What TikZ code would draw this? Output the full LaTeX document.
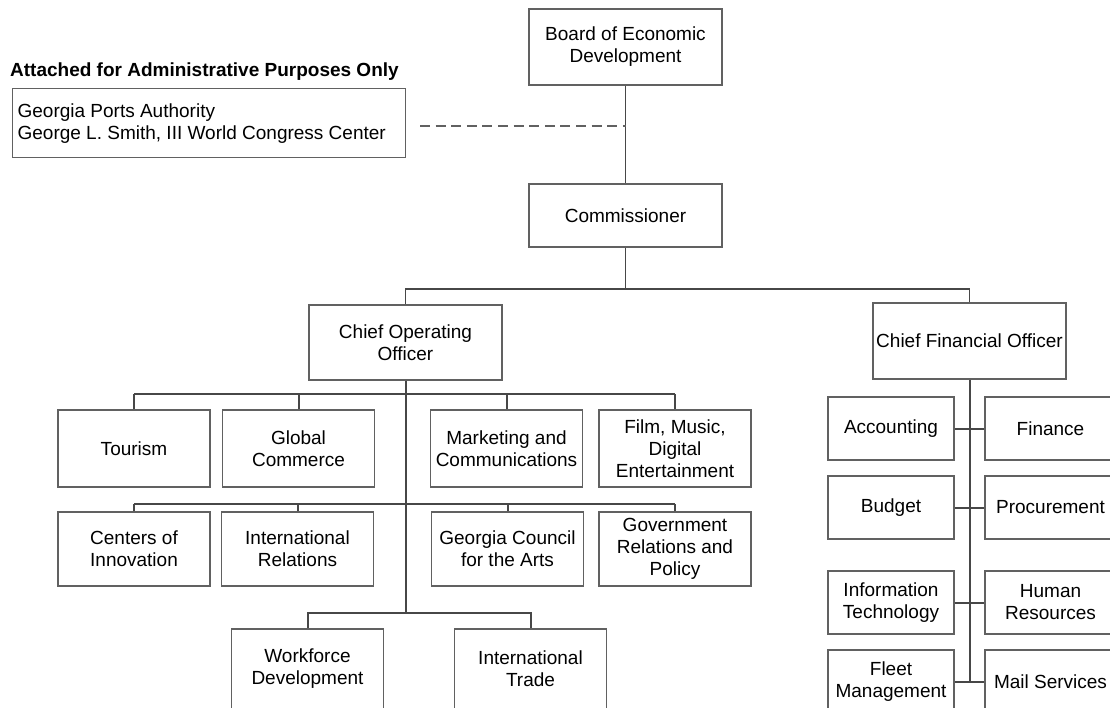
\documentclass[tikz,border=0pt]{standalone}
\usepackage{fontspec}
\setmainfont{Liberation Sans}

\begin{document}
\begin{tikzpicture}[x=1pt,y=-1pt,
  my box/.style={
    draw=black!62, line width=1.2pt, fill=white,
    align=center, inner sep=2pt, text=black,
    font=\fontsize{19}{22}\selectfont,
  },
  big box/.style={my box, minimum width=193pt, minimum height=#1pt},
  unit box/.style={my box, minimum width=152pt, minimum height=#1pt},
  staff box/.style={my box, minimum width=#1pt, minimum height=63pt},
  my link/.style={draw=black!72, line width=2pt},
  admin link/.style={draw=black!62, line width=1.4pt, dash pattern=on 10pt off 5.6pt},
  ]
  \useasboundingbox (0,0) rectangle (1110,708);
  \clip (0,0) rectangle (1110,708);
  \coordinate (bus0) at (625.5,289);
  \coordinate (bus1) at (405.5,394);
  \coordinate (bus2) at (405.5,504);
  \coordinate (bus3) at (405.5,613);
  \coordinate (attach) at (420,126);
  \node[big box=76] (board) at (625.5,47) {Board of Economic\\Development};
  \node[big box=63] (comm) at (625.5,215.5) {Commissioner};
  \node[big box=75] (coo) at (405.5,342.5) {Chief Operating\\Officer};
  \node[big box=76] (cfo) at (969.5,341) {Chief Financial Officer};
  \node[anchor=base west, inner sep=0pt, text=black, font=\bfseries\fontsize{19}{22}\selectfont] (adminhead) at (10,77) {Attached for Administrative Purposes Only};
  \node[my box, anchor=north west, align=flush left, text width=383pt, inner xsep=5pt, minimum height=69pt] (ports) at (12,88) {Georgia Ports Authority\\George L. Smith, III World Congress Center};
  \node[unit box=77] (tourism) at (134,448.5) {Tourism};
  \node[unit box=77] (global) at (298.5,448.5) {Global\\Commerce};
  \node[unit box=77] (marketing) at (506.5,448.5) {Marketing and\\Communications};
  \node[unit box=77] (film) at (675,448.5) {Film, Music,\\Digital\\Entertainment};
  \node[unit box=74] (innov) at (134,549) {Centers of\\Innovation};
  \node[unit box=74] (intrel) at (297.5,549) {International\\Relations};
  \node[unit box=74] (council) at (507.5,549) {Georgia Council\\for the Arts};
  \node[unit box=74] (govrel) at (675,549) {Government\\Relations and\\Policy};
  \node[unit box=80] (workforce) at (307.5,669) {Workforce\\Development};
  \node[unit box=80] (trade) at (530.5,669) {International\\Trade};
  \node[staff box=126] (acct) at (891,428.5) {Accounting};
  \node[staff box=131] (finance) at (1050.5,428.5) {Finance};
  \node[staff box=126] (budget) at (891,507.5) {Budget};
  \node[staff box=131] (procure) at (1050.5,507.5) {Procurement};
  \node[staff box=126] (infotech) at (891,602.5) {Information\\Technology};
  \node[staff box=131] (hr) at (1050.5,602.5) {Human\\Resources};
  \node[staff box=126] (fleet) at (891,681.5) {Fleet\\Management};
  \node[staff box=131] (mail) at (1050.5,681.5) {Mail Services};
  \draw[my link, line width=1.3pt] (board) -- (comm);
  \draw[admin link] (attach) -- (attach -| board);
  \draw[my link, line width=1.6pt] (comm) -- (bus0);
  \draw[my link, line width=1.6pt] (coo.north) |- (bus0) -| (cfo.north);
  \draw[my link] (coo) -- (bus3);
  \draw[my link] (tourism.north |- bus1) -- (film.north |- bus1);
  \foreach \n in {tourism,global,marketing,film}
    \draw[my link] (\n.north) -- (\n.north |- bus1);
  \draw[my link] (innov.north |- bus2) -- (govrel.north |- bus2);
  \foreach \n in {innov,intrel,council,govrel}
    \draw[my link] (\n.north) -- (\n.north |- bus2);
  \draw[my link] (workforce.north) |- (bus3) -| (trade.north);
  \draw[my link] (cfo) -- (cfo |- fleet);
  \foreach \l/\r in {acct/finance,budget/procure,infotech/hr,fleet/mail}
    \draw[my link] (\l) -- (\r);
\end{tikzpicture}
\end{document}
